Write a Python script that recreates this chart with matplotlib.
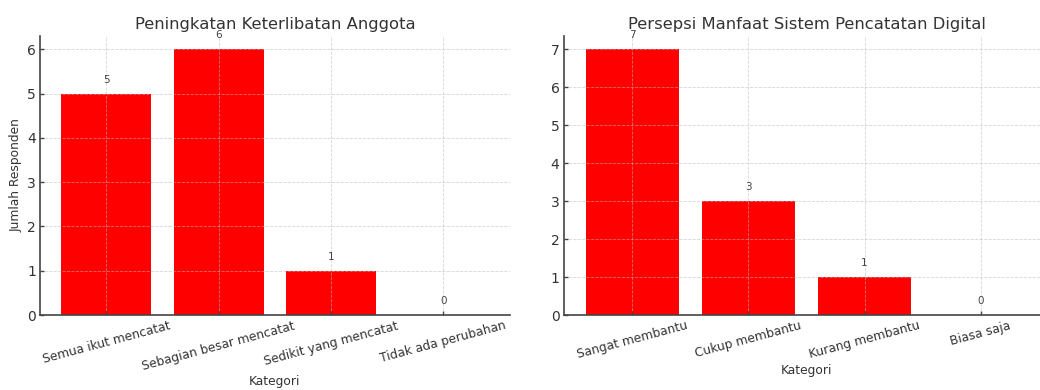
import matplotlib.pyplot as plt

kat1 = ["Semua ikut mencatat", "Sebagian besar mencatat", "Sedikit yang mencatat", "Tidak ada perubahan"]
nilai1 = [5, 6, 1, 0]
kat2 = ["Sangat membantu", "Cukup membantu", "Kurang membantu", "Biasa saja"]
nilai2 = [7, 3, 1, 0]

txt = '#333333'

fig = plt.figure(figsize=(10.4, 3.9), dpi=100)
ax1 = fig.add_axes([0.0385, 0.192, 0.4515, 0.716])
ax2 = fig.add_axes([0.542, 0.192, 0.467, 0.716])


def gambar(ax, kat, nilai, judul, ylab=None):
    ax.bar(range(len(kat)), nilai, color='#ff0000', width=0.8)
    ax.grid(True, linestyle='--', color='#bbbbbb', linewidth=0.6, alpha=0.6)
    for i, v in enumerate(nilai):
        ax.annotate(str(v), (i, v), xytext=(0, 10), textcoords='offset points',
                    ha='center', va='center', fontsize=7.5, color='#444444')
    ax.set_xticks(range(len(kat)))
    ax.set_xticklabels(kat, rotation=15, ha='center', fontsize=8.8, color=txt)
    ax.tick_params(direction='in', length=3, width=1, pad=3, colors='#444444')
    ax.tick_params(axis='y', labelsize=10, labelcolor=txt)
    ax.tick_params(axis='x', labelcolor=txt)
    ax.set_title(judul, fontsize=11.8, color=txt, pad=5)
    ax.set_xlabel('Kategori', fontsize=8.8, color=txt, labelpad=2)
    if ylab:
        ax.set_ylabel(ylab, fontsize=8.8, color=txt, labelpad=3)
    for s in ['top', 'right']:
        ax.spines[s].set_visible(False)
    for s in ['left', 'bottom']:
        ax.spines[s].set_color('#444444')
        ax.spines[s].set_linewidth(1.2)


gambar(ax1, kat1, nilai1, 'Peningkatan Keterlibatan Anggota', 'Jumlah Responden')
gambar(ax2, kat2, nilai2, 'Persepsi Manfaat Sistem Pencatatan Digital')

plt.savefig('out.png', dpi=100)
